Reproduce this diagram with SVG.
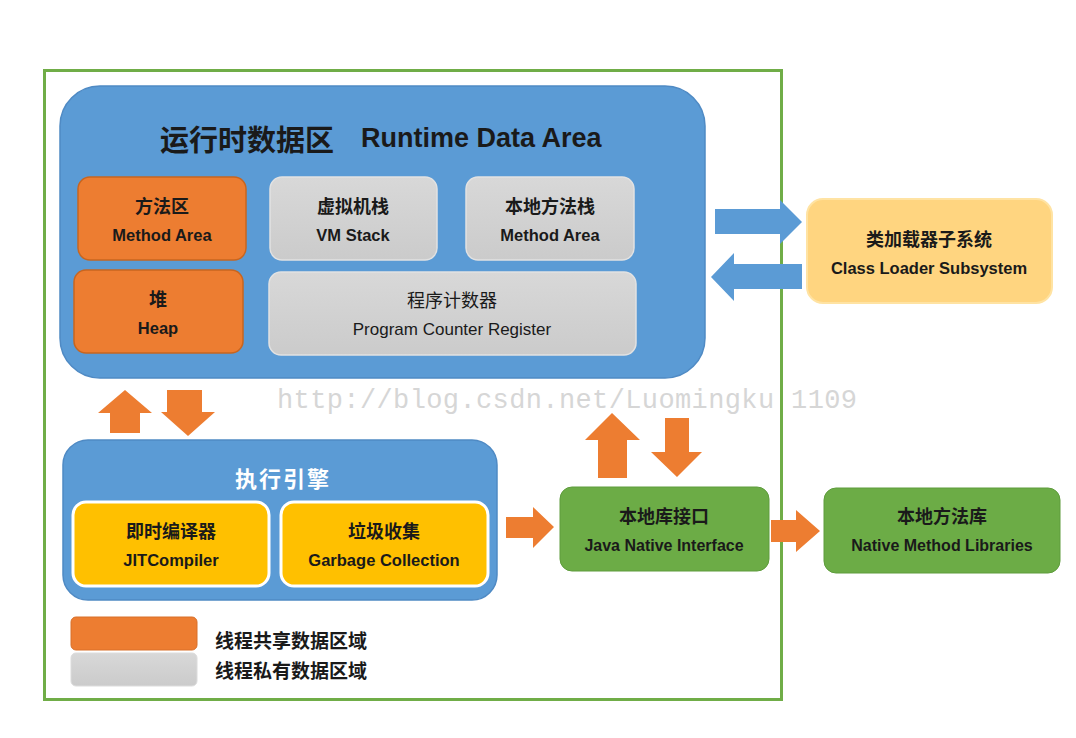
<svg xmlns="http://www.w3.org/2000/svg" width="1076" height="738" viewBox="0 0 1076 738">
<style>
  text { font-family: "Liberation Sans", "Noto Sans CJK SC", sans-serif; fill: #1a1a1a; text-anchor: middle; dominant-baseline: central; }
  .cn { font-family: "Noto Sans CJK SC", sans-serif; font-weight: bold; font-size: 18px; }
  .en { font-weight: bold; font-size: 16.5px; }
  .reg { font-weight: normal; }
  .orange { fill: #ed7d31; stroke: #c8651f; stroke-width: 1.5; }
  .gray { fill: url(#gg); stroke: #e2e2e2; stroke-width: 1.5; }
  .yellow { fill: #ffc000; stroke: #ffffff; stroke-width: 3; }
  .green { fill: #6cac46; stroke: #5e9c3c; stroke-width: 1; }
  .oarrow { fill: #ed7d31; }
  .barrow { fill: #5b9bd5; }
</style>
<defs>
  <linearGradient id="gg" x1="0" y1="0" x2="0" y2="1">
    <stop offset="0" stop-color="#d8d8d8"/>
    <stop offset="1" stop-color="#cbcbcb"/>
  </linearGradient>
</defs>
<rect x="0" y="0" width="1076" height="738" fill="#ffffff"/>

<text id="watermark" x="277" y="401" style="font-family:'Liberation Mono','DejaVu Sans Mono',monospace;font-size:27px;fill:#d6d6d6;text-anchor:start" textLength="580" lengthAdjust="spacing">http://blog.csdn.net/Luomingku 1109</text>

<rect id="frame" x="44.5" y="70.5" width="737" height="629" fill="none" stroke="#70ad47" stroke-width="3"/>

<g id="runtime-data-area">
  <rect x="60" y="86" width="645" height="292" rx="40" fill="#5b9bd5" stroke="#4f8ac4" stroke-width="1.5"/>
  <text x="160" y="138" style="font-family:'Noto Sans CJK SC',sans-serif;font-size:29px;font-weight:bold;text-anchor:start">运行时数据区</text>
  <text x="361" y="138" style="font-size:27px;font-weight:bold;text-anchor:start">Runtime Data Area</text>
</g>
<g id="method-area">
  <rect class="orange" x="78" y="177" width="168" height="83" rx="12"/>
  <text class="cn" x="162" y="205">方法区</text>
  <text class="en" x="162" y="235">Method Area</text>
</g>
<g id="vm-stack">
  <rect class="gray" x="270" y="177" width="167" height="83" rx="12"/>
  <text class="cn" x="353" y="205">虚拟机栈</text>
  <text class="en" x="353" y="235">VM Stack</text>
</g>
<g id="native-method-stack">
  <rect class="gray" x="466" y="177" width="168" height="83" rx="12"/>
  <text class="cn" x="550" y="205">本地方法栈</text>
  <text class="en" x="550" y="235">Method Area</text>
</g>
<g id="heap">
  <rect class="orange" x="74" y="270" width="169" height="83" rx="12"/>
  <text class="cn" x="158" y="298">堆</text>
  <text class="en" x="158" y="328">Heap</text>
</g>
<g id="program-counter">
  <rect class="gray" x="269" y="272" width="367" height="83" rx="12"/>
  <text class="cn reg" x="452" y="299" style="font-weight:normal">程序计数器</text>
  <text class="reg" x="452" y="329" style="font-size:17px">Program Counter Register</text>
</g>

<g id="class-loader">
  <rect x="807" y="199" width="245" height="104" rx="16" fill="#ffd580" stroke="#ffe3a3" stroke-width="2"/>
  <text class="cn" x="929" y="238">类加载器子系统</text>
  <text class="en" x="929" y="268">Class Loader Subsystem</text>
</g>

<g id="execution-engine">
  <rect x="63" y="440" width="434" height="160" rx="25" fill="#5b9bd5" stroke="#4f8ac4" stroke-width="1.5"/>
  <text x="283" y="477" style="font-family:'Noto Sans CJK SC',sans-serif;font-size:22px;font-weight:bold;fill:#ffffff;letter-spacing:2px">执行引擎</text>
</g>
<g id="jit-compiler">
  <rect class="yellow" x="73" y="502" width="196" height="84" rx="13"/>
  <text class="cn" x="171" y="530">即时编译器</text>
  <text class="en" x="171" y="560">JITCompiler</text>
</g>
<g id="garbage-collection">
  <rect class="yellow" x="281" y="502" width="207" height="84" rx="13"/>
  <text class="cn" x="384" y="530">垃圾收集</text>
  <text class="en" x="384" y="560">Garbage Collection</text>
</g>

<g id="jni">
  <rect class="green" x="560" y="487" width="209" height="84" rx="12"/>
  <text class="cn" x="664" y="515">本地库接口</text>
  <text class="en" x="664" y="545" style="font-size:16px">Java Native Interface</text>
</g>
<g id="native-method-libraries">
  <rect class="green" x="824" y="488" width="236" height="85" rx="12"/>
  <text class="cn" x="942" y="515">本地方法库</text>
  <text class="en" x="942" y="545" style="font-size:16px">Native Method Libraries</text>
</g>

<g id="legend">
  <rect x="71" y="617" width="126" height="33" rx="5" fill="#ed7d31" stroke="#d8702a" stroke-width="1"/>
  <rect x="71" y="653" width="126" height="33" rx="5" fill="url(#gg)" stroke="#dcdcdc" stroke-width="1"/>
  <text class="cn" x="215" y="639" style="text-anchor:start;font-size:19px">线程共享数据区域</text>
  <text class="cn" x="215" y="669" style="text-anchor:start;font-size:19px">线程私有数据区域</text>
</g>

<g id="connectors">
  <polygon class="barrow" points="715,209 780,209 780,200 802,222 780,244 780,234 715,234"/>
  <polygon class="barrow" points="711,277 734,253 734,264 802,264 802,289 734,289 734,301"/>
  <polygon class="oarrow" points="125,390 152,413 140,413 140,433 110,433 110,413 98,413"/>
  <polygon class="oarrow" points="167,390 202,390 202,412 215,412 188,436 161,412 167,412"/>
  <polygon class="oarrow" points="612,413 640,440 627,440 627,478 598,478 598,440 585,440"/>
  <polygon class="oarrow" points="665,418 689,418 689,452 702,452 677,477 651,452 665,452"/>
  <polygon class="oarrow" points="506,517 533,517 533,507 554,527 533,548 533,538 506,538"/>
  <polygon class="oarrow" points="771,520 796,520 796,510 820,531 796,552 796,542 771,542"/>
</g>
</svg>
